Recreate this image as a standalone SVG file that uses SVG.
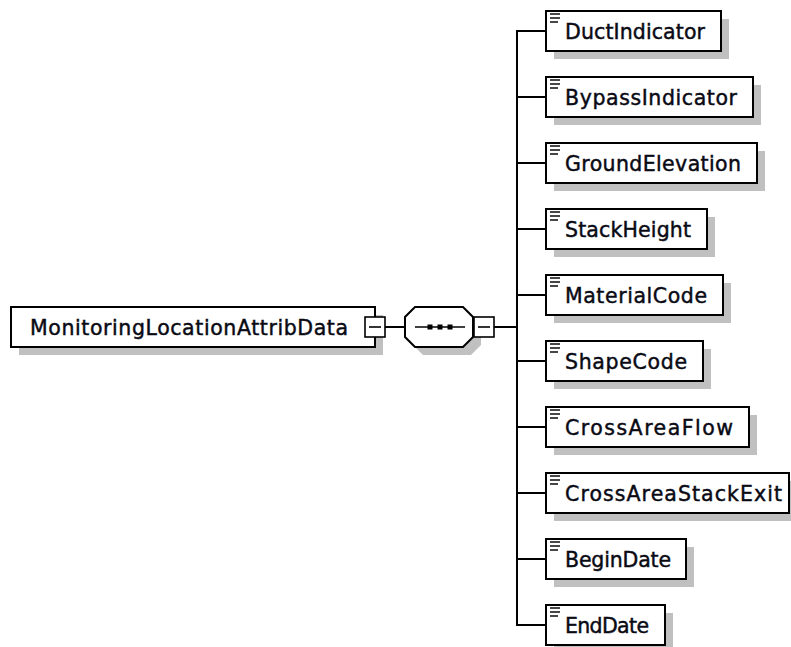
<svg xmlns="http://www.w3.org/2000/svg" width="791" height="647" viewBox="0 0 791 647">
<defs>
<style>
.sh{fill:#c0c0c0;stroke:none}
.box{fill:#fff;stroke:#000;stroke-width:2}
.mb{fill:#fff;stroke:#000;stroke-width:1.6}
.ln{stroke:#000;stroke-width:2;fill:none}
.mn{stroke:#000;stroke-width:1.6}
.ic{stroke:#333;stroke-width:1.8}
.t{font-family:"DejaVu Sans","Liberation Sans",Arial,sans-serif;font-size:20.5px;fill:#0a0a14;stroke:#0a0a14;stroke-width:0.45}
</style>
<g id="icon">
<line class="ic" x1="550" y1="3" x2="560" y2="3"/>
<line class="ic" x1="550" y1="7" x2="560" y2="7"/>
<line class="ic" x1="550" y1="11" x2="558" y2="11"/>
</g>
</defs>
<rect width="791" height="647" fill="#fff"/>

<g id="connectors">
<line class="ln" x1="385" y1="327" x2="405" y2="327"/>
<line class="ln" x1="494" y1="327" x2="517" y2="327"/>
<line class="ln" x1="517" y1="30" x2="517" y2="626"/>
<line class="ln" x1="516" y1="31" x2="546" y2="31"/>
<line class="ln" x1="516" y1="97" x2="546" y2="97"/>
<line class="ln" x1="516" y1="163" x2="546" y2="163"/>
<line class="ln" x1="516" y1="229" x2="546" y2="229"/>
<line class="ln" x1="516" y1="295" x2="546" y2="295"/>
<line class="ln" x1="516" y1="361" x2="546" y2="361"/>
<line class="ln" x1="516" y1="427" x2="546" y2="427"/>
<line class="ln" x1="516" y1="493" x2="546" y2="493"/>
<line class="ln" x1="516" y1="559" x2="546" y2="559"/>
<line class="ln" x1="516" y1="625" x2="546" y2="625"/>
</g>

<g id="root">
<rect class="sh" x="19" y="315" width="364" height="40"/>
<rect class="box" x="11" y="307" width="364" height="40"/>
<text class="t" x="30" y="334.5" textLength="318" lengthAdjust="spacing">MonitoringLocationAttribData</text>
<rect class="mb" x="365" y="317" width="20" height="20"/>
<line class="mn" x1="369" y1="327" x2="381" y2="327"/>
</g>

<g id="sequence">
<polygon class="sh" points="423,315 471,315 481,325 481,345 471,355 423,355 413,345 413,325"/>
<polygon class="box" points="415,307 463,307 473,317 473,337 463,347 415,347 405,337 405,317"/>
<line class="mn" x1="415" y1="327" x2="465" y2="327"/>
<rect x="427.5" y="324.5" width="5" height="5" fill="#000"/>
<rect x="437.5" y="324.5" width="5" height="5" fill="#000"/>
<rect x="447.5" y="324.5" width="5" height="5" fill="#000"/>
<rect class="mb" x="474" y="317" width="20" height="20"/>
<line class="mn" x1="478" y1="327" x2="490" y2="327"/>
</g>

<g id="DuctIndicator">
<rect class="sh" x="554" y="19" width="175" height="40"/>
<rect class="box" x="546" y="11" width="175" height="40"/>
<use href="#icon" y="11"/>
<text class="t" x="565" y="38.5" textLength="140" lengthAdjust="spacing">DuctIndicator</text>
</g>

<g id="BypassIndicator">
<rect class="sh" x="554" y="85" width="207" height="40"/>
<rect class="box" x="546" y="77" width="207" height="40"/>
<use href="#icon" y="77"/>
<text class="t" x="565" y="104.5" textLength="172" lengthAdjust="spacing">BypassIndicator</text>
</g>

<g id="GroundElevation">
<rect class="sh" x="554" y="151" width="211" height="40"/>
<rect class="box" x="546" y="143" width="211" height="40"/>
<use href="#icon" y="143"/>
<text class="t" x="565" y="170.5" textLength="176" lengthAdjust="spacing">GroundElevation</text>
</g>

<g id="StackHeight">
<rect class="sh" x="554" y="217" width="161" height="40"/>
<rect class="box" x="546" y="209" width="161" height="40"/>
<use href="#icon" y="209"/>
<text class="t" x="565" y="236.5" textLength="126" lengthAdjust="spacing">StackHeight</text>
</g>

<g id="MaterialCode">
<rect class="sh" x="554" y="283" width="177" height="40"/>
<rect class="box" x="546" y="275" width="177" height="40"/>
<use href="#icon" y="275"/>
<text class="t" x="565" y="302.5" textLength="142" lengthAdjust="spacing">MaterialCode</text>
</g>

<g id="ShapeCode">
<rect class="sh" x="554" y="349" width="157" height="40"/>
<rect class="box" x="546" y="341" width="157" height="40"/>
<use href="#icon" y="341"/>
<text class="t" x="565" y="368.5" textLength="122" lengthAdjust="spacing">ShapeCode</text>
</g>

<g id="CrossAreaFlow">
<rect class="sh" x="554" y="415" width="203" height="40"/>
<rect class="box" x="546" y="407" width="203" height="40"/>
<use href="#icon" y="407"/>
<text class="t" x="565" y="434.5" textLength="168" lengthAdjust="spacing">CrossAreaFlow</text>
</g>

<g id="CrossAreaStackExit">
<rect class="sh" x="554" y="481" width="244" height="40"/>
<rect class="box" x="546" y="473" width="243" height="40"/>
<use href="#icon" y="473"/>
<text class="t" x="565" y="500.5" textLength="217" lengthAdjust="spacing">CrossAreaStackExit</text>
</g>

<g id="BeginDate">
<rect class="sh" x="554" y="547" width="140" height="40"/>
<rect class="box" x="546" y="539" width="140" height="40"/>
<use href="#icon" y="539"/>
<text class="t" x="565" y="566.5" textLength="106" lengthAdjust="spacing">BeginDate</text>
</g>

<g id="EndDate">
<rect class="sh" x="554" y="613" width="119" height="40"/>
<rect class="box" x="546" y="605" width="119" height="40"/>
<use href="#icon" y="605"/>
<text class="t" x="565" y="632.5" textLength="84" lengthAdjust="spacing">EndDate</text>
</g>
</svg>
